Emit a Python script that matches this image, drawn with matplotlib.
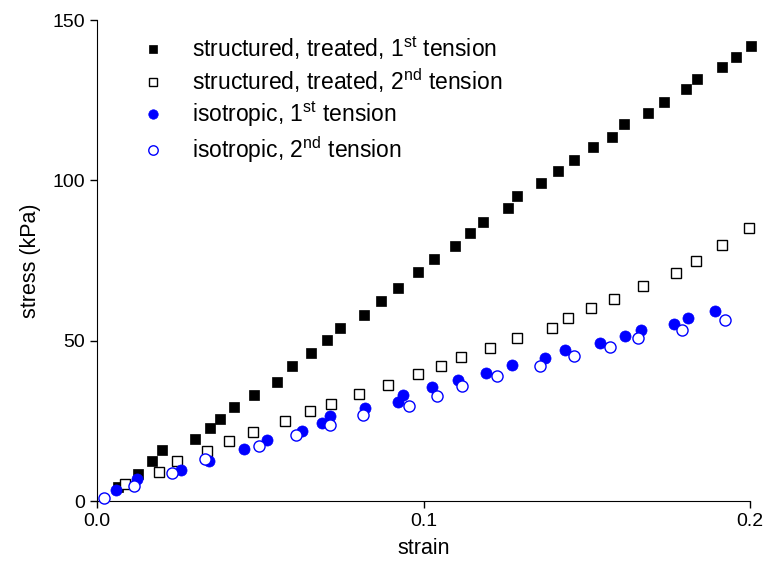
import numpy as np
import matplotlib
matplotlib.use("Agg")
import matplotlib.pyplot as plt

plt.rcParams['font.family'] = ['Liberation Sans', 'DejaVu Sans']
plt.rcParams['mathtext.fontset'] = 'custom'
plt.rcParams['mathtext.rm'] = 'Liberation Sans'

# structured, treated, 1st tension
s1_x = [0.0064, 0.0126, 0.0168, 0.0199, 0.0300, 0.0346, 0.0377, 0.0420, 0.0481, 0.0551,
        0.0597, 0.0655, 0.0704, 0.0744, 0.0818, 0.0870, 0.0922, 0.0983, 0.1032, 0.1096,
        0.1142, 0.1182, 0.1259, 0.1286, 0.1360, 0.1412, 0.1461, 0.1519, 0.1577, 0.1614,
        0.1688, 0.1737, 0.1804, 0.1838, 0.1914, 0.1957, 0.2003]
s1_y = [4.4, 8.4, 12.5, 15.9, 19.3, 22.8, 25.6, 29.3, 33.1, 37.1,
        42.1, 46.2, 50.2, 53.9, 58.0, 62.4, 66.4, 71.4, 75.5, 79.5,
        83.6, 87.0, 91.4, 95.1, 99.2, 102.9, 106.3, 110.4, 113.5, 117.6,
        121.0, 124.4, 128.5, 131.6, 135.3, 138.5, 141.9]

# structured, treated, 2nd tension
s2_x = [0.0086, 0.0190, 0.0244, 0.0338, 0.0404, 0.0477, 0.0577, 0.0652, 0.0717, 0.0802,
        0.0892, 0.0984, 0.1054, 0.1116, 0.1205, 0.1286, 0.1394, 0.1442, 0.1514, 0.1583,
        0.1673, 0.1772, 0.1834, 0.1913, 0.1996]
s2_y = [5.2, 9.2, 12.6, 15.5, 18.6, 21.5, 24.9, 28.1, 30.4, 33.3,
        36.2, 39.5, 42.1, 44.8, 47.7, 50.7, 53.9, 57.0, 60.1, 63.1,
        67.0, 71.0, 74.9, 79.7, 85.2]

# isotropic, 1st tension
i1_x = [0.0058, 0.0123, 0.0257, 0.0343, 0.0450, 0.0521, 0.0627, 0.0688, 0.0714, 0.0821,
        0.0923, 0.0938, 0.1027, 0.1107, 0.1191, 0.1271, 0.1371, 0.1432, 0.1541, 0.1617,
        0.1667, 0.1766, 0.1809, 0.1894]
i1_y = [3.4, 6.8, 9.6, 12.6, 16.1, 19.0, 21.8, 24.2, 26.6, 29.1,
        30.8, 33.1, 35.5, 37.7, 40.0, 42.3, 44.5, 47.0, 49.2, 51.5,
        53.3, 55.3, 57.2, 59.2]

# isotropic, 2nd tension
i2_x = [0.0022, 0.0114, 0.0229, 0.0332, 0.0496, 0.0609, 0.0714, 0.0814, 0.0957, 0.1041,
        0.1119, 0.1226, 0.1358, 0.1462, 0.1572, 0.1658, 0.1792, 0.1922]
i2_y = [0.8, 4.8, 8.8, 13.0, 17.0, 20.6, 23.7, 26.8, 29.7, 32.7,
        36.0, 39.0, 42.0, 45.1, 48.0, 50.8, 53.4, 56.4]

labels = [r'structured, treated, 1$^{\rm st}$ tension',
          r'structured, treated, 2$^{\rm nd}$ tension',
          r'isotropic, 1$^{\rm st}$ tension',
          r'isotropic, 2$^{\rm nd}$ tension']

fig = plt.figure(figsize=(7.68, 5.64), dpi=100)
ax = fig.add_axes([0.1263, 0.1117, 0.8503, 0.8528])

ax.plot(s1_x, s1_y, 's', ms=7.2, mfc='black', mec='black', mew=0.5, label=labels[0], zorder=3, clip_on=False)
ax.plot(s2_x, s2_y, 's', ms=6.5, mfc='white', mec='black', mew=1.0, label=labels[1], zorder=3, clip_on=False)
ax.plot(i1_x, i1_y, 'o', ms=8, mfc='blue', mec='blue', mew=0.5, label=labels[2], zorder=4, clip_on=False)
ax.plot(i2_x, i2_y, 'o', ms=8, mfc='white', mec='blue', mew=1.0, label=labels[3], zorder=5, clip_on=False)

ax.set_xlim(0, 0.2)
ax.set_ylim(0, 150)
ax.set_xticks([0, 0.1, 0.2])
ax.set_xticklabels(['0.0', '0.1', '0.2'])
ax.set_yticks([0, 50, 100, 150])
ax.tick_params(direction='out', length=5, width=1, labelsize=14)
ax.spines['top'].set_visible(False)
ax.spines['right'].set_visible(False)
ax.set_xlabel('strain', fontsize=15.5, labelpad=6)
ax.set_ylabel('stress (kPa)', fontsize=15.5, labelpad=8)

leg = ax.legend(loc='upper left', bbox_to_anchor=(0.04, 1.012), frameon=False, fontsize=16.5,
                markerscale=0.85, handletextpad=1.3, labelspacing=0.2, handlelength=0.8)

fig.savefig('out.png', dpi=100)
